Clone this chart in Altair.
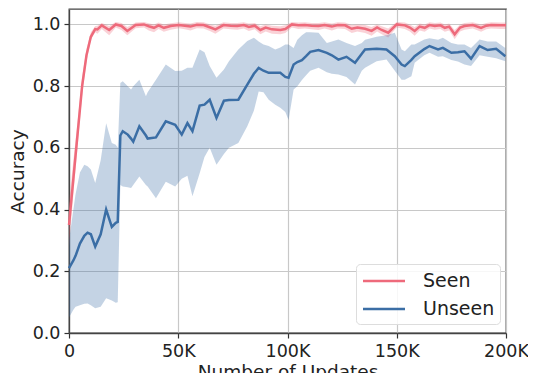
import altair as alt
import pandas as pd

# ---------------- data (x in updates) ----------------
seen_x = [0, 2000, 4000, 6000, 8000, 10000, 12000, 13000, 15000, 18400, 21400, 24000,
          26700, 30500, 34300, 36500, 38900, 41000, 43400, 46500, 50300, 53000, 55600,
          58500, 61600, 64700, 67000, 70700, 74000, 77000, 80000, 82300, 85000, 87600,
          90000, 92900, 96700, 99000, 102000, 105000, 108000, 111000, 114200, 117000,
          120300, 123000, 126300, 129400, 132000, 135500, 138500, 141000, 143100, 146100,
          150000, 153700, 156000, 158200, 160500, 162800, 165000, 167400, 170000, 172000,
          174000, 176500, 179000, 181000, 184800, 188600, 191000, 193200, 197700, 200000]
seen_mean = [0.35, 0.50, 0.65, 0.80, 0.90, 0.96, 0.985, 0.984, 0.997, 0.982, 1.0, 0.995,
             0.979, 0.998, 1.0, 0.994, 0.989, 0.997, 0.989, 0.995, 0.998, 0.996, 0.993,
             0.999, 0.998, 0.99, 0.984, 0.998, 0.996, 0.995, 0.998, 0.992, 0.996, 0.982,
             0.99, 0.984, 0.982, 0.985, 1.0, 0.997, 0.998, 0.996, 0.995, 0.998,
             0.993, 0.998, 0.997, 0.986, 0.99, 0.986, 0.979, 0.99, 0.982, 0.973,
             1.0, 0.997, 0.99, 0.979, 0.993, 0.989, 0.998, 0.995, 0.997, 0.989,
             0.993, 0.968, 0.99, 0.995, 0.998, 0.989, 0.996, 0.998, 0.997, 0.997]
seen_lo = [0.28, 0.45, 0.61, 0.77, 0.88, 0.95, 0.975, 0.97, 0.985, 0.965, 0.99, 0.982,
           0.965, 0.988, 0.99, 0.98, 0.975, 0.985, 0.976, 0.983, 0.988, 0.984, 0.98,
           0.988, 0.987, 0.978, 0.97, 0.987, 0.984, 0.983, 0.987, 0.979, 0.984, 0.968,
           0.977, 0.97, 0.968, 0.972, 0.99, 0.985, 0.987, 0.984, 0.982, 0.987,
           0.98, 0.987, 0.985, 0.972, 0.977, 0.972, 0.963, 0.977, 0.968, 0.958,
           0.99, 0.985, 0.977, 0.963, 0.98, 0.976, 0.987, 0.983, 0.985, 0.976,
           0.98, 0.952, 0.977, 0.983, 0.987, 0.976, 0.984, 0.987, 0.985, 0.985]
seen_hi = [0.42, 0.56, 0.69, 0.83, 0.92, 0.975, 0.995, 0.996, 1.005, 0.995, 1.008, 1.005,
           0.992, 1.006, 1.008, 1.004, 1.0, 1.006, 1.0, 1.004, 1.007, 1.005, 1.003,
           1.008, 1.007, 1.0, 0.996, 1.007, 1.005, 1.005, 1.007, 1.003, 1.005, 0.994,
           1.0, 0.996, 0.994, 0.997, 1.008, 1.006, 1.007, 1.005, 1.005, 1.007,
           1.003, 1.007, 1.006, 0.998, 1.0, 0.998, 0.992, 1.0, 0.994, 0.987,
           1.008, 1.006, 1.0, 0.992, 1.003, 1.0, 1.007, 1.005, 1.006, 1.0,
           1.003, 0.982, 1.0, 1.005, 1.007, 1.0, 1.005, 1.007, 1.006, 1.006]

unseen_x = [0, 2000, 3000, 5000, 7000, 8500, 10000, 12000, 14500, 17000, 19600, 21400,
            22300, 23500, 24600, 26900, 28400, 29400, 32200, 35200, 36000, 39800, 44300,
            48600, 51600, 54200, 56500, 59800, 62000, 64400, 67500, 70900, 73200, 77500,
            81600, 84600, 86800, 89000, 91400, 94400, 96700, 99000, 100500, 102800, 104500,
            106600, 108500, 110400, 114200, 118000, 120300, 123300, 127000, 130900, 134000,
            135500, 140800, 145300, 149100, 152200, 153700, 156700, 158200, 162600, 165000,
            168900, 171100, 175000, 178000, 181000, 184000, 187900, 191600, 195500, 199700]
unseen_mean = [0.21, 0.235, 0.25, 0.29, 0.315, 0.325, 0.32, 0.28, 0.32, 0.40, 0.344, 0.357,
               0.36, 0.64, 0.654, 0.643, 0.63, 0.62, 0.67, 0.64, 0.63, 0.634, 0.686,
               0.675, 0.643, 0.68, 0.654, 0.737, 0.74, 0.756, 0.697, 0.753, 0.755, 0.756,
               0.805, 0.84, 0.859, 0.85, 0.843, 0.843, 0.843, 0.83, 0.827, 0.87, 0.878,
               0.884, 0.897, 0.911, 0.917, 0.908, 0.90, 0.886, 0.895, 0.876, 0.905,
               0.919, 0.921, 0.919, 0.897, 0.87, 0.865, 0.885, 0.897, 0.92, 0.93,
               0.919, 0.924, 0.908, 0.91, 0.913, 0.889, 0.93, 0.917, 0.921, 0.897]
unseen_lo = [0.05, 0.075, 0.085, 0.09, 0.095, 0.096, 0.09, 0.08, 0.085, 0.113, 0.105, 0.098,
             0.10, 0.48, 0.475, 0.472, 0.47, 0.48, 0.507, 0.48, 0.475, 0.437, 0.49,
             0.475, 0.50, 0.51, 0.443, 0.518, 0.57, 0.60, 0.545, 0.58, 0.60, 0.616,
             0.67, 0.72, 0.783, 0.78, 0.756, 0.74, 0.73, 0.716, 0.69, 0.789, 0.80,
             0.82, 0.835, 0.85, 0.86, 0.845, 0.84, 0.838, 0.83, 0.805, 0.85,
             0.86, 0.881, 0.886, 0.85, 0.821, 0.821, 0.832, 0.876, 0.90, 0.908,
             0.895, 0.897, 0.885, 0.88, 0.87, 0.865, 0.90, 0.895, 0.89, 0.881]
unseen_hi = [0.30, 0.40, 0.45, 0.52, 0.545, 0.54, 0.53, 0.486, 0.56, 0.68, 0.616, 0.61,
             0.60, 0.81, 0.816, 0.80, 0.789, 0.80, 0.821, 0.767, 0.78, 0.821, 0.87,
             0.849, 0.85, 0.86, 0.86, 0.919, 0.91, 0.865, 0.827, 0.854, 0.881, 0.919,
             0.946, 0.957, 0.945, 0.935, 0.93, 0.919, 0.925, 0.935, 0.935, 0.924, 0.95,
             0.965, 0.975, 0.975, 0.973, 0.94, 0.945, 0.951, 0.94, 0.93, 0.94,
             0.95, 0.96, 0.965, 0.973, 0.919, 0.913, 0.935, 0.935, 0.951, 0.955,
             0.95, 0.957, 0.94, 0.935, 0.935, 0.924, 0.951, 0.945, 0.945, 0.924]

series_names = ["Seen", "Unseen"]
series_colors = ["#ee6a7b", "#3b6ea5"]
x_ticks = [0, 50000, 100000, 150000, 200000]
y_ticks = [0.0, 0.2, 0.4, 0.6, 0.8, 1.0]

df = pd.concat([
    pd.DataFrame({"x": seen_x, "mean": seen_mean, "lo": seen_lo, "hi": seen_hi, "series": "Seen"}),
    pd.DataFrame({"x": unseen_x, "mean": unseen_mean, "lo": unseen_lo, "hi": unseen_hi, "series": "Unseen"}),
], ignore_index=True)
df["band"] = df["series"]

FONT = "DejaVu Sans"

x_enc = alt.X("x:Q", scale=alt.Scale(domain=[0, 200000], nice=False, zero=False),
              axis=alt.Axis(values=x_ticks, title="Number of Updates", labelFlush=False,
                            labelExpr="datum.value == 0 ? '0' : (datum.value / 1000) + 'K'"))
y_scale = alt.Scale(domain=[0, 1.05], nice=False)

band = alt.Chart(df).mark_area(opacity=0.3, interpolate="linear").encode(
    x=x_enc,
    y=alt.Y("lo:Q", scale=y_scale,
            axis=alt.Axis(values=y_ticks, format=".1f", title="Accuracy")),
    y2="hi:Q",
    fill=alt.Fill("band:N", scale=alt.Scale(domain=series_names, range=series_colors), legend=None),
    detail="band:N",
)

line = alt.Chart(df).mark_line(strokeWidth=2.5).encode(
    x=x_enc,
    y=alt.Y("mean:Q", scale=y_scale),
    stroke=alt.Stroke("series:N", scale=alt.Scale(domain=series_names, range=series_colors),
                      legend=alt.Legend(title=None, orient="none", legendX=287, legendY=255,
                                        symbolType="M-2,0H2", symbolSize=441, symbolStrokeWidth=2.5,
                                        symbolOffset=11,
                                        labelFontSize=19, labelFont=FONT, labelColor="#222",
                                        labelOffset=27, rowPadding=6, padding=5,
                                        fillColor="rgba(255,255,255,0.85)", strokeColor="#dddddd",
                                        cornerRadius=4)),
)

chart = alt.layer(band, line).resolve_legend(stroke="independent").properties(
    width=437, height=324,
    autosize=alt.AutoSizeParams(type="none"),
    padding={"left": 61, "top": 1, "right": 22, "bottom": 40},
).configure_view(
    stroke="#444444", strokeWidth=1.3
).configure_axis(
    labelFont=FONT, labelFontSize=17.5, labelColor="#222222",
    titleFont=FONT, titleFontSize=18.5, titleFontWeight="normal", titleColor="#222222",
    grid=True, gridColor="#c8c8c8", gridWidth=1.2,
    tickColor="#333333", tickSize=5, tickWidth=1.2,
    domainColor="#444444", domainWidth=1.3, labelPadding=4,
).configure_axisY(
    titlePadding=5
).configure_axisX(
    titlePadding=3
)

chart.save("out.html", embed_options={"renderer": "svg", "actions": False})
